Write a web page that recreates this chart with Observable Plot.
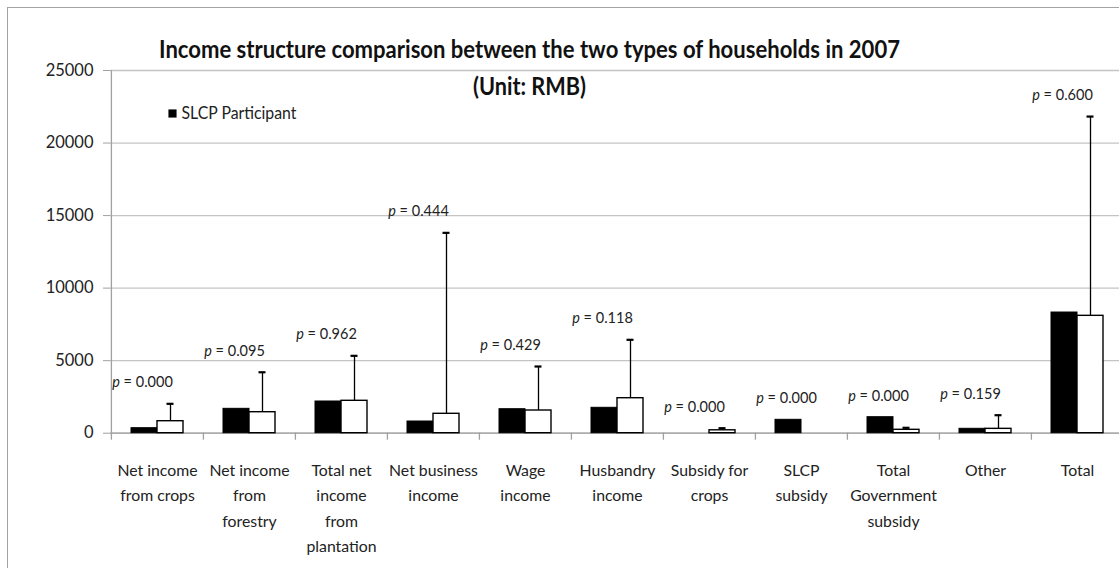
<!DOCTYPE html>
<html>
<head>
<meta charset="utf-8">
<script src="https://cdn.jsdelivr.net/npm/d3@7"></script>
<script src="https://cdn.jsdelivr.net/npm/@observablehq/plot@0.6"></script>
<style>
  html, body { margin: 0; padding: 0; background: #fff; overflow: hidden; }
  #wrap { position: relative; width: 1119px; height: 568px; overflow: hidden; }
  #frame { position: absolute; left: 7px; top: 7px; width: 1300px; height: 800px;
           border: 1.5px solid #a3a3a3; box-sizing: border-box; pointer-events: none; }
  #chart { position: absolute; left: 0; top: 0; }
</style>
</head>
<body>
<div id="wrap"><div id="chart"></div><div id="frame"></div></div>
<script>
// ---- data ----
const categories = [
  "Net income from crops", "Net income from forestry", "Total net income from plantation",
  "Net business income", "Wage income", "Husbandry income", "Subsidy for crops",
  "SLCP subsidy", "Total Government subsidy", "Other", "Total"
];
const tickLabels = [
  "Net income\nfrom crops", "Net income\nfrom\nforestry", "Total net\nincome\nfrom\nplantation",
  "Net business\nincome", "Wage\nincome", "Husbandry\nincome", "Subsidy for\ncrops",
  "SLCP\nsubsidy", "Total\nGovernment\nsubsidy", "Other", "Total"
];
const slcpParticipant = [345, 1680, 2185, 806, 1654, 1750, 0, 923, 1103, 303, 8318];
const nonParticipant  = [827, 1447, 2233, 1337, 1564, 2412, 200, 0, 234, 300, 8090];
const nonParticipantSD = [1198, 2753, 3100, 12473, 3033, 4025, 145, 0, 138, 940, 13735];
const pLabels = ["p = 0.000", "p = 0.095", "p = 0.962", "p = 0.444", "p = 0.429", "p = 0.118",
                 "p = 0.000", "p = 0.000", "p = 0.000", "p = 0.159", "p = 0.600"];
const yTicks = [0, 5000, 10000, 15000, 20000, 25000];
const titleLine1 = "Income structure comparison between the two types of households in 2007";
const titleLine2 = "(Unit: RMB)";
const legendLabel = "SLCP Participant";

// ---- table built from the arrays ----
const rows = categories.map((cat, i) => ({
  cat,
  slcp: slcpParticipant[i],
  non: nonParticipant[i],
  sd: nonParticipantSD[i],
  upper: nonParticipant[i] + nonParticipantSD[i],
  top: Math.max(slcpParticipant[i], nonParticipant[i] + nonParticipantSD[i]),
  p: pLabels[i]
}));
const labelOf = new Map(categories.map((c, i) => [c, tickLabels[i]]));

const W = 1119, H = 568;
const mL = 110, mR = -5, mT = 70, mB = 135.3;
const step = (W - mR - mL) / categories.length;
const barW = 26;
const pad = 1 - (2 * barW) / step;
const ink = "#222";
const axisGray = "#a0a0a0";
const gridGray = "#c4c4c4";
const font = "Lato, 'Open Sans', sans-serif";

const chart = Plot.plot({
  width: W, height: H,
  marginLeft: mL, marginRight: mR, marginTop: mT, marginBottom: mB,
  style: { fontFamily: font, background: "transparent", overflow: "visible", color: ink },
  x: { domain: categories, paddingInner: pad, paddingOuter: pad / 2, axis: null },
  y: { domain: [0, 25000], axis: null },
  marks: [
    Plot.gridY(yTicks, { stroke: gridGray, strokeOpacity: 1, strokeWidth: 1.3 }),
    Plot.ruleY([0], { stroke: axisGray, strokeWidth: 1.3 }),
    Plot.ruleX([0], { x: () => categories[0], dx: -step / 2, y1: 0, y2: 25000, stroke: axisGray, strokeWidth: 1.3 }),
    Plot.axisY(yTicks, { tickSize: 7, tickPadding: 10, stroke: axisGray, fill: ink, fontSize: 16.5,
                         tickFormat: d => String(d), label: null }),
    // category boundary tick marks below the axis
    Plot.ruleX(categories, { x: d => d, y1: 0, y2: 0, dx: -step / 2, insetBottom: -7,
                             stroke: axisGray, strokeWidth: 1.3 }),
    Plot.axisX({ tickSize: 0, tickPadding: 24.5, fontSize: 15.8, lineHeight: 1.61, fill: ink,
                 tickFormat: d => labelOf.get(d), label: null }),
    // bars
    Plot.barY(rows, { x: "cat", y: "slcp", insetRight: barW, fill: "black", stroke: "black", strokeWidth: 1 }),
    Plot.barY(rows, { x: "cat", y: "non", insetLeft: barW, fill: "white", stroke: "black", strokeWidth: 1.4 }),
    // error bars
    Plot.ruleX(rows.filter(d => d.sd > 0), { x: "cat", y1: "non", y2: "upper", dx: barW / 2,
                                             stroke: "black", strokeWidth: 1.3 }),
    Plot.tickY(rows.filter(d => d.sd > 0), { x: "cat", y: "upper", insetLeft: barW + barW / 2 - 3.5,
                                             insetRight: barW / 2 - 3.5, stroke: "black", strokeWidth: 2.2 }),
    // p-value labels
    Plot.text(rows, { x: "cat", y: "top", text: "p", dy: -21, dx: -15, fontSize: 14.5,
                      lineAnchor: "middle", fill: ink, className: "plab" }),
    // title
    Plot.text([titleLine1], { frameAnchor: "top-left", dx: 529 - mL, dy: -12.7, textAnchor: "middle",
                              lineAnchor: "bottom", fontSize: 24, fontWeight: "bold", fill: "#111",
                              className: "title1" }),
    Plot.text([titleLine2], { frameAnchor: "top-left", dx: 529 - mL, dy: 24, textAnchor: "middle",
                              lineAnchor: "bottom", fontSize: 24, fontWeight: "bold", fill: "#111",
                              className: "title2" }),
    // legend
    Plot.dot([legendLabel], { frameAnchor: "top-left", dx: 172 - mL, dy: 43, symbol: "square", r: 4.6,
                              fill: "black", stroke: "none" }),
    Plot.text([legendLabel], { frameAnchor: "top-left", dx: 181 - mL, dy: 43, textAnchor: "start",
                               lineAnchor: "middle", fontSize: 16.5, fill: ink, className: "legend" })
  ]
});

// italic "p" in the p-value labels
d3.select(chart).selectAll(".plab text").each(function () {
  const s = this.textContent;
  if (s.startsWith("p")) {
    const t = d3.select(this);
    t.text(null);
    t.append("tspan").attr("font-style", "italic").text("p");
    t.append("tspan").text(s.slice(1));
  }
});
// narrow the title to the reference's condensed face
d3.select(chart).selectAll(".title1 text").attr("textLength", 741).attr("lengthAdjust", "spacingAndGlyphs");
d3.select(chart).selectAll(".title2 text").attr("textLength", 113).attr("lengthAdjust", "spacingAndGlyphs");
d3.select(chart).selectAll(".legend text").attr("textLength", 115).attr("lengthAdjust", "spacingAndGlyphs");

document.getElementById("chart").appendChild(chart);
</script>
</body>
</html>
